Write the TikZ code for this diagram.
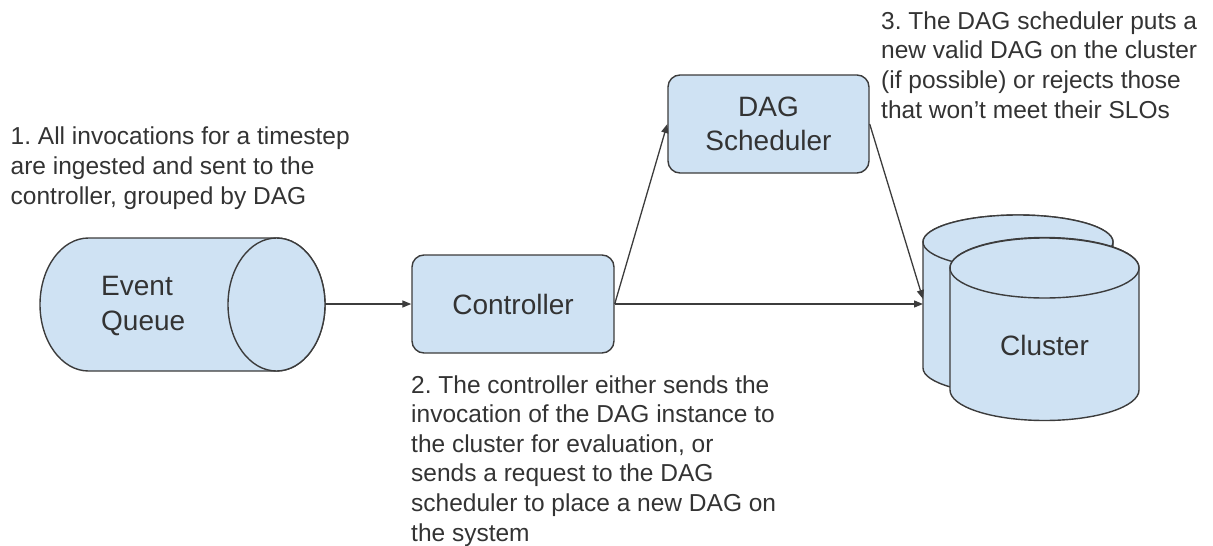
\documentclass[tikz,border=0pt]{standalone}
\usepackage{fontspec}
\setmainfont{Liberation Sans}
\usetikzlibrary{arrows.meta}
\definecolor{boxfill}{HTML}{CFE2F3}
\definecolor{edge}{HTML}{3C3C3C}
\definecolor{txt}{HTML}{333333}
\newcommand{\notefont}{\fontsize{24.5}{29.6}\selectfont}
\newcommand{\boxfont}{\fontsize{28}{34.5}\selectfont}
\frenchspacing
\begin{document}
\begin{tikzpicture}[x=1pt,y=-1pt,
  shapeline/.style={draw=edge, line width=1.4pt, fill=boxfill},
  boxnode/.style={shapeline, rounded corners=12pt, inner sep=0pt, font=\boxfont, text=txt, align=center},
  conn/.style={draw=edge, line width=1.3pt, -{Triangle[length=9pt,width=7pt]}},
  note/.style={font=\notefont, text=txt, align=left, inner sep=0pt, anchor=base west},
  lbl/.style={font=\boxfont, text=txt, inner sep=0pt}]
\useasboundingbox (0,0) rectangle (1213,546);

% Event Queue (horizontal cylinder)
\path[shapeline] (88.5,238) -- (276.5,238)
  arc[start angle=-90, end angle=90, x radius=48.5, y radius=66.5]
  -- (88.5,371)
  arc[start angle=90, end angle=270, x radius=48.5, y radius=66.5] -- cycle;
\path[shapeline] (276.5,304.5) ellipse[x radius=48.5, y radius=66.5];
\node[lbl, align=left, anchor=west] (eq) at (101,306) {Event\\Queue};
\coordinate (eqout) at (325,304);

% Controller and DAG Scheduler
\node[boxnode, minimum width=202pt, minimum height=98pt] (ctrl) at (513,304) {Controller};
\node[boxnode, minimum width=201pt, minimum height=98pt] (dag) at (768.5,124) {DAG\\Scheduler};

% Cluster (two stacked cylinders)
\path[shapeline] (923,242) -- (923,368)
  arc[start angle=180, end angle=0, x radius=95, y radius=27]
  -- (1113,242)
  arc[start angle=0, end angle=-180, x radius=95, y radius=27] -- cycle;
\path[shapeline] (1018,242) ellipse[x radius=95, y radius=27];
\path[shapeline] (950,268) -- (950,390)
  arc[start angle=180, end angle=0, x radius=94.5, y radius=30.5]
  -- (1139,268)
  arc[start angle=0, end angle=-180, x radius=94.5, y radius=30.5] -- cycle;
\path[shapeline] (1044.5,268) ellipse[x radius=94.5, y radius=30];
\node[lbl] (cluster) at (1044.5,345) {Cluster};
\coordinate (clin) at (923,304);
\coordinate (clin2) at (923,299);

% Connectors
\draw[conn] (eqout) -- (ctrl.west);
\draw[conn] (ctrl.east) -- (clin);
\draw[conn] (ctrl.east) -- (dag.west);
\draw[conn] (dag.east) -- (clin2);

% Notes (anchored at the baseline of their last line)
\node[note] (note1) at (10.5,204) {1. All invocations for a timestep\\are ingested and sent to the\\controller, grouped by DAG};
\node[note] (note2) at (411,541) {2. The controller either sends the\\invocation of the DAG instance to\\the cluster for evaluation, or\\sends a request to the DAG\\scheduler to place a new DAG on\\the system};
\node[note] (note3) at (881,118) {3. The DAG scheduler puts a\\new valid DAG on the cluster\\(if possible) or rejects those\\that won’t meet their SLOs};
\end{tikzpicture}
\end{document}
